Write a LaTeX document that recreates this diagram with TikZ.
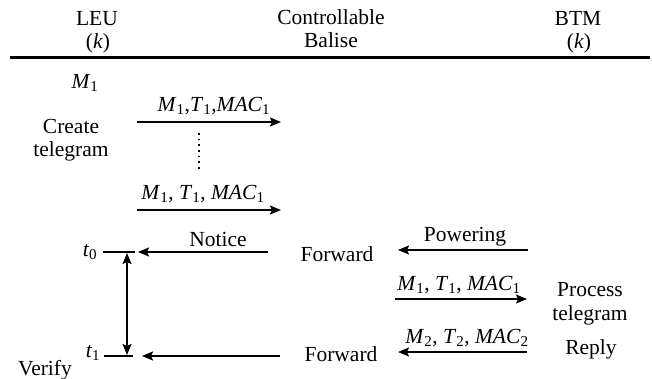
\documentclass[tikz,border=0pt]{standalone}
\usepackage{fontspec}
\setmainfont{Liberation Serif}
\usetikzlibrary{arrows.meta}
\newcommand{\vsub}[2]{\textit{#1}\textsubscript{#2}}
\begin{document}
\begin{tikzpicture}[x=1pt,y=-1pt,
  every node/.style={font=\fontsize{21.5}{23.5}\selectfont, inner sep=0pt, align=center},
  msg/.style={line width=1.7pt, -{Stealth[length=11pt,width=9pt,inset=2pt]}},
  dmsg/.style={line width=1.7pt, {Stealth[length=11pt,width=9pt,inset=2pt]}-{Stealth[length=11pt,width=9pt,inset=2pt]}},
  bar/.style={line width=1.7pt}]
\useasboundingbox (0,0) rectangle (652,379);
% header
\node (leu) at (97,19) {LEU};
\node (leuk) at (98,43) {(\textit{k})};
\node (cb) at (331,17) {Controllable};
\node (cbb) at (331,40) {Balise};
\node (btm) at (578,18) {BTM};
\node (btmk) at (579,43) {(\textit{k})};
\coordinate (hl) at (10,58);
\coordinate (hr) at (650,58);
\draw[line width=3pt] (hl) -- (hr);
% LEU side
\node (m1) at (85,83) {\vsub{M}{1}};
\node (create) at (71,140) {Create\\telegram};
\coordinate (a1s) at (137,122);
\coordinate (a1e) at (281,122);
\draw[msg] (a1s) -- (a1e);
\node (a1l) at (214,106) {\vsub{M}{1},\vsub{T}{1},\vsub{MAC}{1}};
\coordinate (d1) at (199,133);
\coordinate (d2) at (199,172);
\draw[line width=1.7pt, dash pattern=on 1.7pt off 4pt] (d1) -- (d2);
\coordinate (a2s) at (137,210);
\coordinate (a2e) at (281,210);
\node (a2l) at (203,194) {\vsub{M}{1}, \vsub{T}{1}, \vsub{MAC}{1}};
\draw[msg] (a2s) -- (a2e);
% t0
\node (t0) at (90,252) {\textit{t}\textsubscript{0}};
\coordinate (b0s) at (103,252);
\coordinate (b0e) at (135,252);
\draw[bar] (b0s) -- (b0e);
\coordinate (ns) at (268,252);
\coordinate (ne) at (138,252);
\draw[msg] (ns) -- (ne);
\node (notice) at (218,239) {Notice};
\node (fw1) at (337,254) {Forward};
\coordinate (ps) at (528,250);
\coordinate (pe) at (398,250);
\draw[msg] (ps) -- (pe);
\node (pow) at (465,237) {Powering};
% BTM
\coordinate (a3s) at (395,299);
\coordinate (a3e) at (527,299);
\draw[msg] (a3s) -- (a3e);
\node (a3l) at (459,285) {\vsub{M}{1}, \vsub{T}{1}, \vsub{MAC}{1}};
\node (proc) at (590,304) {Process\\telegram};
\coordinate (a4s) at (527,352);
\coordinate (a4e) at (398,352);
\draw[msg] (a4s) -- (a4e);
\node (a4l) at (467,338) {\vsub{M}{2}, \vsub{T}{2}, \vsub{MAC}{2}};
\node (reply) at (591,349) {Reply};
\node (fw2) at (341,354) {Forward};
% t1
\node (t1) at (93,353) {\textit{t}\textsubscript{1}};
\coordinate (b1s) at (104,356);
\coordinate (b1e) at (133,356);
\draw[bar] (b1s) -- (b1e);
\coordinate (fs) at (280,356);
\coordinate (fe) at (142,356);
\draw[msg] (fs) -- (fe);
\coordinate (v0) at (127,253);
\coordinate (v1) at (127,355);
\draw[dmsg] (v0) -- (v1);
\node (verify) at (45,370) {Verify};
\end{tikzpicture}
\end{document}
